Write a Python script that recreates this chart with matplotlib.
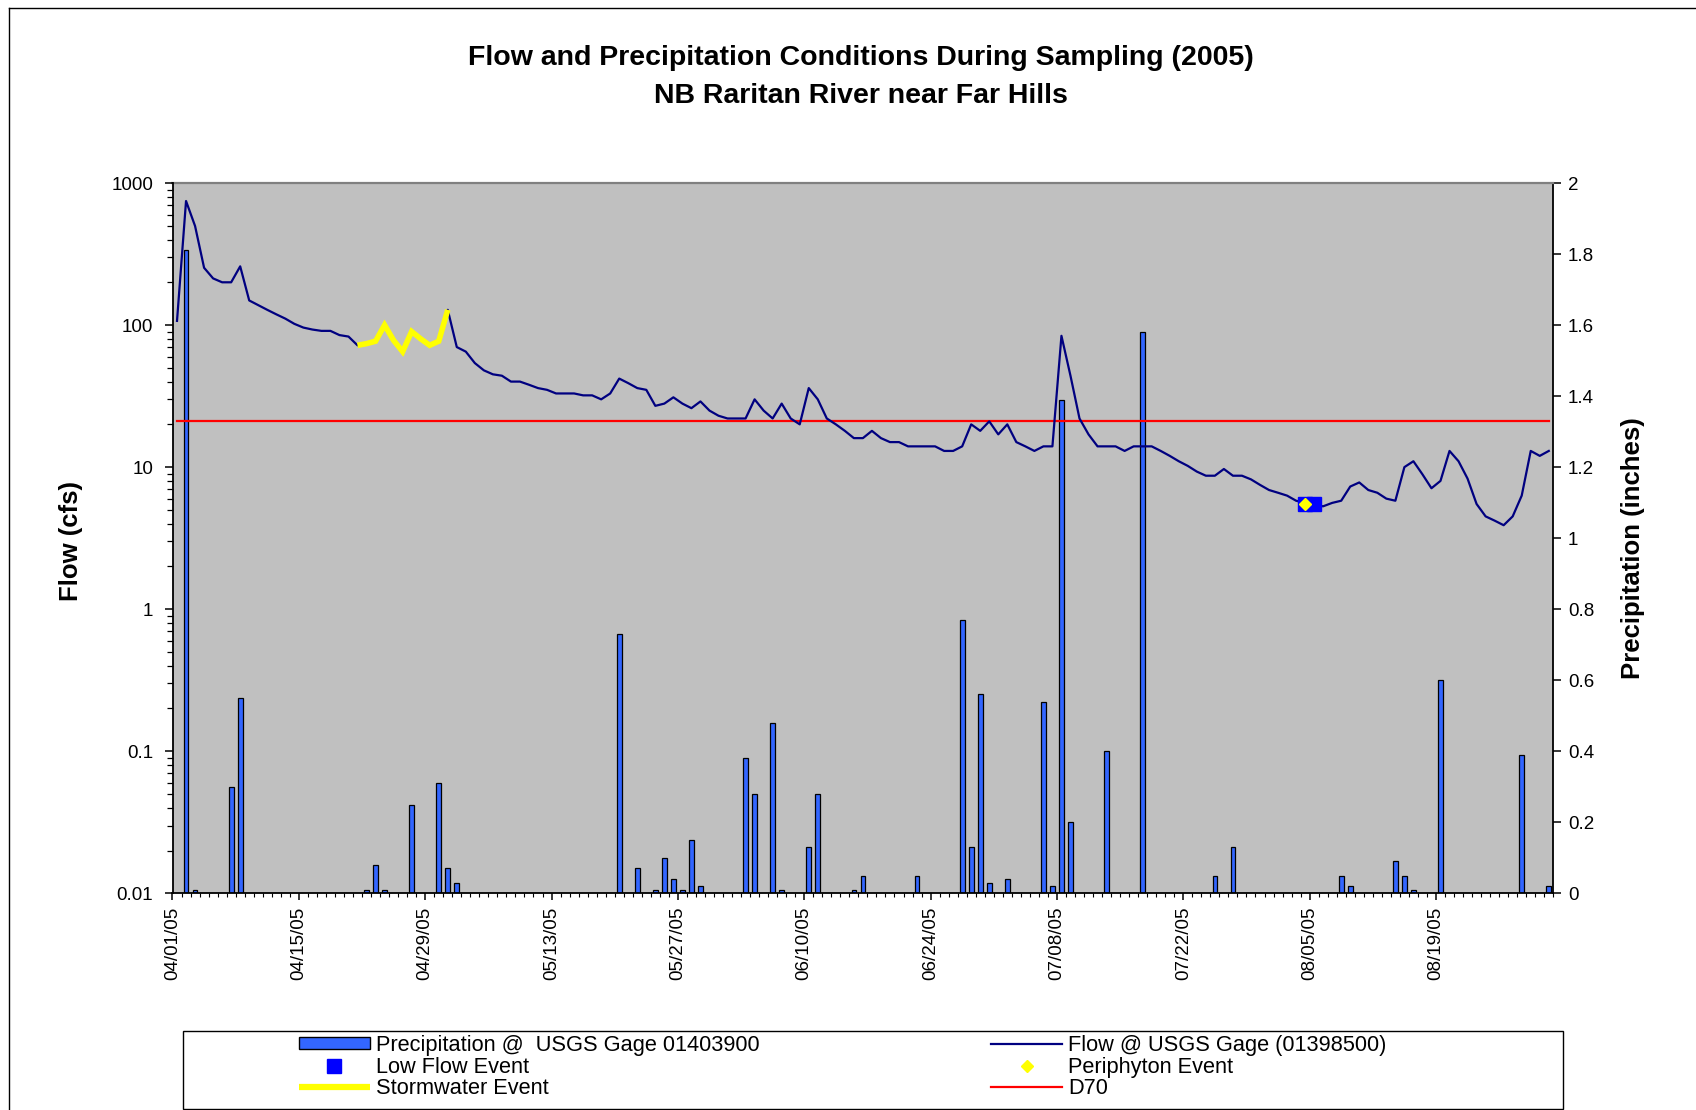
import matplotlib
matplotlib.use("Agg")
import matplotlib.pyplot as plt
import matplotlib.dates as mdates
from matplotlib.lines import Line2D
from matplotlib.patches import Patch, Rectangle
from matplotlib.ticker import FixedLocator, FuncFormatter, LogLocator, NullFormatter
import pandas as pd

plt.rcParams['font.family'] = ['Liberation Sans', 'DejaVu Sans']

# ---------------- data ----------------
start_date = '2005-04-01'
# daily flow (cfs) @ USGS gage 01398500, 04/01/05 .. 08/31/05
flow_cfs = [
    107, 747, 498, 253, 213, 200, 200, 259, 149, 138,
    128, 119, 111, 102, 96, 93, 91, 91, 85, 83,
    72, 74, 77, 100, 78, 65, 90, 80, 72, 77,
    128, 70, 65, 54, 48, 45, 44, 40, 40, 38,
    36, 35, 33, 33, 33, 32, 32, 30, 33, 42,
    39, 36, 35, 27, 28, 31, 28, 26, 29, 25,
    23, 22, 22, 22, 30, 25, 22, 28, 22, 20,
    36, 30, 22, 20, 18, 16, 16, 18, 16, 15,
    15, 14, 14, 14, 14, 13, 13, 14, 20, 18,
    21, 17, 20, 15, 14, 13, 14, 14, 84, 44,
    22, 17, 14, 14, 14, 13, 14, 14, 14, 13,
    12, 11, 10.2, 9.3, 8.7, 8.7, 9.7, 8.7, 8.7, 8.2,
    7.5, 6.9, 6.6, 6.3, 5.8, 5.6, 5.4, 5.3, 5.6, 5.8,
    7.3, 7.8, 6.9, 6.6, 6.0, 5.8, 10, 11, 8.9, 7.1,
    8.0, 13, 11, 8.3, 5.5, 4.5, 4.2, 3.9, 4.5, 6.3,
    13, 12, 13,
]

precip_dates = [
    '2005-04-02', '2005-04-03', '2005-04-07', '2005-04-08', '2005-04-22',
    '2005-04-23', '2005-04-24', '2005-04-27', '2005-04-30', '2005-05-01',
    '2005-05-02', '2005-05-20', '2005-05-22', '2005-05-24', '2005-05-25',
    '2005-05-26', '2005-05-27', '2005-05-28', '2005-05-29', '2005-06-03',
    '2005-06-04', '2005-06-06', '2005-06-07', '2005-06-10', '2005-06-11',
    '2005-06-15', '2005-06-16', '2005-06-22', '2005-06-27', '2005-06-28',
    '2005-06-29', '2005-06-30', '2005-07-02', '2005-07-06', '2005-07-07',
    '2005-07-08', '2005-07-09', '2005-07-13', '2005-07-17', '2005-07-25',
    '2005-07-27', '2005-08-08', '2005-08-09', '2005-08-14', '2005-08-15',
    '2005-08-16', '2005-08-19', '2005-08-28', '2005-08-31',
]
precip_in = [
    1.81, 0.01, 0.30, 0.55, 0.01,
    0.08, 0.01, 0.25, 0.31, 0.07,
    0.03, 0.73, 0.07, 0.01, 0.10,
    0.04, 0.01, 0.15, 0.02, 0.38,
    0.28, 0.48, 0.01, 0.13, 0.28,
    0.01, 0.05, 0.05, 0.77, 0.13,
    0.56, 0.03, 0.04, 0.54, 0.02,
    1.39, 0.20, 0.40, 1.58, 0.05,
    0.13, 0.05, 0.02, 0.09, 0.05,
    0.01, 0.60, 0.39, 0.02,
]

storm_start, storm_end = '2005-04-21', '2005-05-01'
low_flow_dates = ['2005-08-04', '2005-08-05']
low_flow_cfs = [5.5, 5.5]
periphyton_dates = ['2005-08-04']
periphyton_cfs = [5.5]
d70_cfs = 21

flow_ticks = [0.01, 0.1, 1, 10, 100, 1000]
precip_ticks = [0, 0.2, 0.4, 0.6, 0.8, 1.0, 1.2, 1.4, 1.6, 1.8, 2.0]
date_ticks = pd.date_range('2005-04-01', '2005-08-31', freq='14D')

title_lines = ['Flow and Precipitation Conditions During Sampling (2005)',
               'NB Raritan River near Far Hills']

# ---------------- figure ----------------
W_PX, H_PX = 1696, 1110
fig = plt.figure(figsize=(W_PX / 100, H_PX / 100), dpi=100)
fig.patch.set_facecolor('white')

def fx(px):
    return px / W_PX

def fy(py):
    return 1 - py / H_PX

ax_l, ax_r, ax_t, ax_b = 172.5, 1553.3, 183.0, 893.3
ax = fig.add_axes([fx(ax_l), fy(ax_b), fx(ax_r - ax_l), (ax_b - ax_t) / H_PX])
axp = ax.twinx()
ax.set_zorder(axp.get_zorder() + 1)
ax.patch.set_visible(False)
axp.patch.set_visible(True)
axp.patch.set_facecolor('#C0C0C0')

half_day = pd.Timedelta(hours=12)
days = pd.date_range(start_date, periods=len(flow_cfs)) + half_day
xd = mdates.date2num(days)

# precipitation bars (secondary axis)
px = mdates.date2num(pd.to_datetime(precip_dates) + half_day)
axp.bar(px, precip_in, width=0.52, color='#3366FF', edgecolor='black', linewidth=0.9)
axp.set_ylim(0, 2)
axp.yaxis.set_major_locator(FixedLocator(precip_ticks))
axp.yaxis.set_major_formatter(FuncFormatter(lambda v, _: f'{v:g}'))

# flow-related lines (primary log axis)
ax.set_yscale('log')
ax.plot(xd, [d70_cfs] * len(xd), color='#FF0000', lw=1.6, zorder=2)
ax.plot(xd, flow_cfs, color='#000080', lw=1.6, zorder=3)
s_mask = (days >= pd.Timestamp(storm_start)) & (days <= pd.Timestamp(storm_end) + half_day)
ax.plot(xd[s_mask], [f for f, m in zip(flow_cfs, s_mask) if m], color='#FFFF00', lw=4,
        solid_capstyle='butt', solid_joinstyle='miter', zorder=4)
ax.plot(mdates.date2num(pd.to_datetime(low_flow_dates) + half_day), low_flow_cfs, 's',
        color='#0000FF', mec='#0000FF', ms=10, zorder=5)
ax.plot(mdates.date2num(pd.to_datetime(periphyton_dates) + half_day), periphyton_cfs, 'D',
        color='#FFFF00', mec='#FFFF00', ms=6.4, zorder=6)

ax.set_ylim(0.01, 1000)
ax.yaxis.set_major_locator(FixedLocator(flow_ticks))
ax.yaxis.set_major_formatter(FuncFormatter(lambda v, _: f'{v:g}'))
ax.yaxis.set_minor_locator(LogLocator(base=10, subs=range(2, 10), numticks=20))
ax.yaxis.set_minor_formatter(NullFormatter())

ax.set_xlim(mdates.date2num(pd.Timestamp('2005-04-01')), mdates.date2num(pd.Timestamp('2005-09-01')))
ax.xaxis.set_major_locator(FixedLocator(mdates.date2num(date_ticks)))
ax.xaxis.set_major_formatter(mdates.DateFormatter('%m/%d/%y'))
ax.xaxis.set_minor_locator(mdates.DayLocator())

# spines
for s in ax.spines.values():
    s.set_visible(False)
ax.spines['left'].set_visible(True)
ax.spines['left'].set_color('black')
ax.spines['left'].set_linewidth(1.3)
axp.spines['left'].set_visible(False)
axp.spines['top'].set_color('#808080')
axp.spines['top'].set_linewidth(1.6)
axp.spines['right'].set_color('black')
axp.spines['right'].set_linewidth(1.3)
axp.spines['bottom'].set_color('black')
axp.spines['bottom'].set_linewidth(1.3)

tick_fs = 13.5
ax.tick_params(axis='y', which='major', direction='out', length=5.5, width=1.1,
               pad=8.5, labelsize=tick_fs)
ax.tick_params(axis='y', which='minor', direction='out', length=4.5, width=0.9)
ax.tick_params(axis='x', which='major', direction='out', length=5, width=1.1,
               pad=4.5, labelsize=tick_fs, labelrotation=90)
ax.tick_params(axis='x', which='minor', direction='out', length=3, width=0.8)
axp.tick_params(axis='y', which='major', direction='out', length=5.5, width=1.1,
                pad=5, labelsize=tick_fs)

ax.set_ylabel('Flow (cfs)', fontsize=18.5, fontweight='bold')
ax.yaxis.set_label_coords((71.4 - ax_l) / (ax_r - ax_l), (ax_b - 541) / (ax_b - ax_t))
ax.yaxis.label.set_va('center')
axp.set_ylabel('Precipitation (inches)', fontsize=18.5, fontweight='bold')
axp.yaxis.set_label_coords((1633 - ax_l) / (ax_r - ax_l), (ax_b - 548) / (ax_b - ax_t))
axp.yaxis.label.set_va('center')

# titles
fig.text(fx(861), fy(58), title_lines[0], ha='center', va='center', fontsize=20.5, fontweight='bold')
fig.text(fx(861), fy(96), title_lines[1], ha='center', va='center', fontsize=20.5, fontweight='bold')

# outer chart frame (left and top edges visible)
fig.add_artist(Line2D([fx(9), fx(9)], [fy(8), 0], color='black', lw=1.0))
fig.add_artist(Line2D([fx(9), 1], [fy(8), fy(8)], color='black', lw=1.0))

# legend box
fig.add_artist(Rectangle((fx(183), fy(1108.5)), fx(1563 - 183), (1108.5 - 1031) / H_PX,
                         transform=fig.transFigure, facecolor='white', edgecolor='black', lw=1.0))

leg_fs = 15.7
fs_px = leg_fs * 100 / 72
hl = 71 / fs_px
h1 = [Patch(facecolor='#3366FF', edgecolor='black', linewidth=1.0),
      Line2D([], [], ls='none', marker='s', color='#0000FF', ms=10),
      Line2D([], [], color='#FFFF00', lw=4.5, solid_capstyle='butt')]
l1 = ['Precipitation @  USGS Gage 01403900', 'Low Flow Event', 'Stormwater Event']
h2 = [Line2D([], [], color='#000080', lw=1.6),
      Line2D([], [], ls='none', marker='D', color='#FFFF00', ms=6.4),
      Line2D([], [], color='#FF0000', lw=1.6)]
l2 = ['Flow @ USGS Gage (01398500)', 'Periphyton Event', 'D70']
common = dict(frameon=False, fontsize=leg_fs, handlelength=hl, handletextpad=6.5 / fs_px,
              labelspacing=0.03, borderpad=0, borderaxespad=0, handleheight=0.45,
              loc='upper left')
fig.legend(h1, l1, bbox_to_anchor=(fx(298.5), fy(1035)), **common)
fig.legend(h2, l2, bbox_to_anchor=(fx(991), fy(1035)), **common)

fig.savefig('out.png', dpi=100)
